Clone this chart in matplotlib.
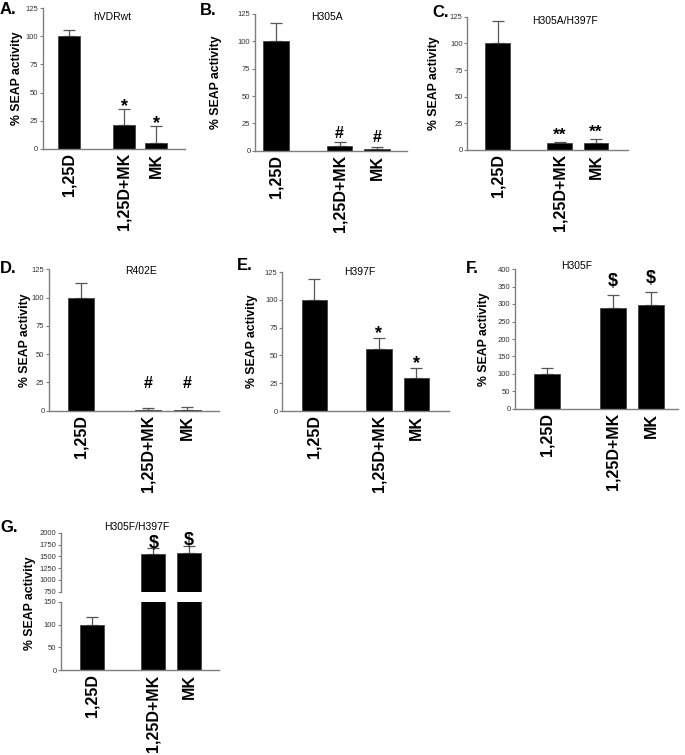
import matplotlib.pyplot as plt

plt.rcParams['font.family'] = ['Liberation Sans', 'DejaVu Sans']

W, H = 685, 755

groups = ["1,25D", "1,25D+MK", "MK"]
xpos = [0, 1.7, 2.7]

# mean and SEM (% SEAP activity) per mutant
a_mean = [100, 21.5, 5]
a_sem = [6, 13.5, 15]
b_mean = [100, 4, 2]
b_sem = [17, 4, 1.5]
c_mean = [100, 7, 7]
c_sem = [21, 0.5, 3]
d_mean = [100, 0.3, 0.5]
d_sem = [13, 2.5, 2.5]
e_mean = [100, 56, 30]
e_sem = [19, 9.5, 9]
f_mean = [100, 289, 297]
f_sem = [16, 36, 38]
g_mean = [100, 1549, 1570]
g_sem = [16, 120, 155]

GRAY = '#7f7f7f'
ERR = '#555555'


def px_axes(fig, left, top, right, bottom):
    return fig.add_axes([left / W, 1 - bottom / H, (right - left) / W, (bottom - top) / H])


def style(ax, yticks, ylim, xlim):
    for s in ['top', 'right']:
        ax.spines[s].set_visible(False)
    for s in ['left', 'bottom']:
        ax.spines[s].set_color(GRAY)
        ax.spines[s].set_linewidth(1)
    ax.set_ylim(*ylim)
    ax.set_xlim(*xlim)
    ax.set_yticks(yticks)
    ax.tick_params(axis='y', length=2.5, width=0.8, color=GRAY, pad=0.8,
                   labelsize=5.5, labelcolor='#333333')
    ax.set_xticks(xpos)
    ax.set_xticklabels(groups, rotation=90, fontsize=11.5, fontweight='bold')
    ax.tick_params(axis='x', length=0, pad=3)


def bars(ax, mean, sem):
    ax.bar(xpos, mean, width=0.68, color='black', edgecolor='#444444',
           linewidth=0.6, zorder=2)
    ax.errorbar(xpos, mean, yerr=[[0, 0, 0], sem], fmt='none', ecolor=ERR,
                elinewidth=0.9, capsize=4, capthick=0.9, zorder=1)


def marks(ax, mean, sem, mark, size, dy, floor=0):
    for i in (1, 2):
        y = max(mean[i] + sem[i], floor)
        ax.annotate(mark, (xpos[i], y), xytext=(0, dy), textcoords='offset points',
                    ha='center', va='baseline', fontsize=size, fontweight='bold')


fig = plt.figure(figsize=(W / 100, H / 100), dpi=100)

panels = [
    # letter, title, mean, sem, box, xlim, mark, size, dy, floor, letter pos, title pos, ylabel x
    ("A.", "hVDRwt", a_mean, a_sem, (42.7, 8.3, 185, 148.7), (-0.83, 3.59), "*", 13, -1.2, 0, (0, 2), (112, 17), 17),
    ("B.", "H305A", b_mean, b_sem, (255, 14, 406.7, 150.7), (-0.56, 3.49), "#", 11.5, 3.2, 0, (200, 3), (327, 17), 216),
    ("C.", "H305A/H397F", c_mean, c_sem, (467.3, 16.7, 627.7, 150), (-0.84, 3.57), "**", 12.5, 1.8, 0, (432, 5), (565, 21), 434),
    ("D.", "R402E", d_mean, d_sem, (49, 269.3, 219, 410.7), (-0.81, 3.5), "#", 11.5, 0, 20, (0, 261), (141, 271), 25),
    ("E.", "H397F", e_mean, e_sem, (282.3, 272, 449, 411), (-0.85, 3.56), "*", 13, -0.2, 0, (237, 258), (360, 272), 252),
    ("F.", "H305F", f_mean, f_sem, (515, 269, 678.3, 409), (-0.84, 3.41), "$", 13, 6.5, 0, (466, 261), (577, 266), 484),
]
yranges = {"F.": ([0, 50, 100, 150, 200, 250, 300, 350, 400], (0, 400))}

for (letter, title, mean, sem, box, xlim, mk, size, dy, floor, lpos, tpos, ylx) in panels:
    ax = px_axes(fig, *box)
    yt, yl = yranges.get(letter, ([0, 25, 50, 75, 100, 125], (0, 125)))
    style(ax, yt, yl, xlim)
    bars(ax, mean, sem)
    marks(ax, mean, sem, mk, size, dy, floor)
    fig.text(lpos[0] / W, 1 - lpos[1] / H, letter, fontsize=12, fontweight='bold',
             ha='left', va='top')
    fig.text(tpos[0] / W, 1 - tpos[1] / H, title, fontsize=7.5, ha='center', va='center')
    fig.text(ylx / W, 1 - (box[1] + box[3]) / 2 / H, "% SEAP activity", fontsize=8.8,
             fontweight='bold', rotation=90, ha='center', va='center')

# panel G with broken y axis
g_xlim = (-0.87, 3.53)
low = px_axes(fig, 61, 601.7, 219, 670.3)
style(low, [0, 50, 100, 150], (0, 150), g_xlim)
bars(low, g_mean, g_sem)

up = px_axes(fig, 61, 532.7, 219, 591.7)
style(up, [750, 1000, 1250, 1500, 1750, 2000], (750, 2000), g_xlim)
up.spines['bottom'].set_visible(False)
up.set_xticks([])
bars(up, g_mean, g_sem)
marks(up, g_mean, g_sem, "$", 13, 0.5)

fig.text(0 / W, 1 - 520 / H, "G.", fontsize=12, fontweight='bold', ha='left', va='top')
fig.text(137 / W, 1 - 527.5 / H, "H305F/H397F", fontsize=7.5, ha='center', va='center')
fig.text(30 / W, 1 - 603 / H, "% SEAP activity", fontsize=8.8, fontweight='bold',
         rotation=90, ha='center', va='center')

fig.savefig("out.png", dpi=100)
